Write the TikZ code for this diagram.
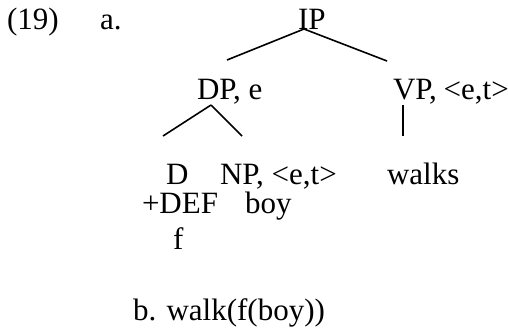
\documentclass[tikz,border=0pt]{standalone}
\usepackage{fontspec}
\setmainfont{Liberation Serif}
\begin{document}
\begin{tikzpicture}[x=1pt,y=-1pt,
  lbl/.style={anchor=base west,inner sep=0pt,outer sep=0pt,font=\fontsize{31}{36}\selectfont},
  br/.style={line width=1.6pt}]
\useasboundingbox (0,0) rectangle (508,333);
\node[lbl] (num) at (7,29) {(19)};
\node[lbl] (a) at (100,29) {a.};
\node[lbl] (ip) at (298,29) {IP};
\node[lbl] (dp) at (197,99) {DP, e};
\node[lbl] (vp) at (393,99) {VP,\hspace{-1pt} <e,t>};
\node[lbl] (d) at (166,184) {D};
\node[lbl] (np) at (220,184) {NP, <e,t>};
\node[lbl] (walks) at (387,184) {walks};
\node[lbl] (def) at (142,213) {+DEF};
\node[lbl] (boy) at (245,213) {boy};
\node[lbl] (f) at (173,249) {f};
\node[lbl] (b) at (133,320) {b. walk(f(boy))};
\coordinate (ipc) at (304,29);
\coordinate (dptop) at (227,60);
\coordinate (vptop) at (387,61);
\coordinate (dpc) at (211,105);
\coordinate (dleft) at (163,136);
\coordinate (npright) at (242,136);
\coordinate (vpc) at (403,105);
\coordinate (walkstop) at (403,136);
\draw[br] (ipc) -- (dptop);
\draw[br] (ipc) -- (vptop);
\draw[br] (dpc) -- (dleft);
\draw[br] (dpc) -- (npright);
\draw[br] (vpc) -- (walkstop);
\end{tikzpicture}
\end{document}
